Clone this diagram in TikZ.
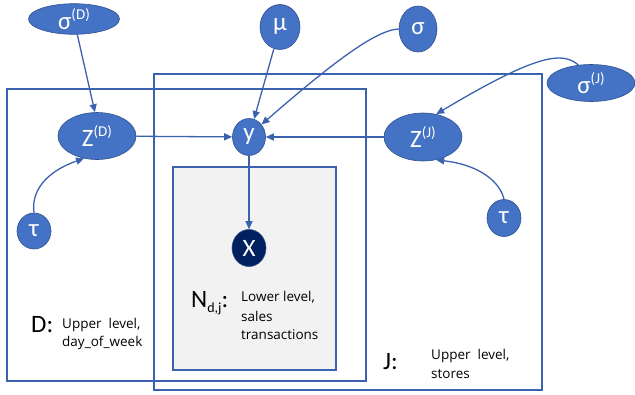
\documentclass[tikz,border=0pt]{standalone}
\usepackage{fontspec}
\setmainfont{Carlito}
\newfontfamily\smallfont{Open Sans}
\usetikzlibrary{shapes.geometric,arrows.meta}
\definecolor{nodeblue}{HTML}{4472C4}
\definecolor{edgeblue}{HTML}{2F528F}
\definecolor{lineblue}{HTML}{3A62AE}
\definecolor{navy}{HTML}{002060}
\definecolor{platefill}{HTML}{F2F2F2}
\newcommand{\upidx}[1]{\raisebox{0.42em}{\fontsize{15}{15}\selectfont #1}}
\newcommand{\lowidx}[1]{\raisebox{-0.2em}{\fontsize{14}{14}\selectfont #1}}
\tikzset{
  var/.style={ellipse, fill=nodeblue, draw=edgeblue, line width=0.6pt, text=white, inner sep=0pt, font=\fontsize{25}{25}\selectfont},
  obs/.style={var, fill=navy},
  plate/.style={draw=lineblue, line width=1.1pt},
  edge/.style={draw=lineblue, line width=1.3pt, -{Triangle[length=8pt,width=7pt]}},
  plabel/.style={font=\fontsize{25}{25}\selectfont, inner sep=0pt, anchor=west},
  pdesc/.style={font=\smallfont\fontsize{13.5}{16}\selectfont, inner sep=0pt, anchor=west}
}
\begin{document}
\begin{tikzpicture}[x=1pt,y=-1pt]
\useasboundingbox (0,0) rectangle (635,394);
% plates
\draw[plate] (154,74) rectangle (542,390);
\draw[plate] (7,89) rectangle (366,381);
\draw[plate, fill=platefill] (173,167) rectangle (336,370);
% nodes
\node[var, minimum width=91pt, minimum height=28pt] (sD) at (74,19) {σ\upidx{(D)}};
\node[var, minimum width=40pt, minimum height=45pt] (mu) at (280,27) {μ};
\node[var, minimum width=38pt, minimum height=46pt] (s) at (418,29) {σ};
\node[var, minimum width=88pt, minimum height=37pt] (sJ) at (591,83) {σ\upidx{(J)}};
\node[var, minimum width=78pt, minimum height=47pt] (ZD) at (97,136) {Z\upidx{(D)}};
\node[var, minimum width=33pt, minimum height=37pt] (y) at (249,137) {y};
\node[var, minimum width=78pt, minimum height=48pt] (ZJ) at (423,137) {Z\upidx{(J)}};
\node[var, minimum width=34pt, minimum height=36pt] (tD) at (34,231) {τ};
\node[var, minimum width=34pt, minimum height=37pt] (tJ) at (504,218) {τ};
\node[obs, minimum width=34pt, minimum height=37pt] (X) at (249,248) {X};
% labels
\node[plabel] (Dl) at (31,325) {D:};
\node[pdesc] (Dd1) at (62,325) {Upper\ \ level,};
\node[pdesc] (Dd2) at (62,343) {day\_of\_week};
\node[plabel] (Nl) at (191,303) {N\lowidx{d,j}:};
\node[pdesc] (Nd1) at (241,297) {Lower level,};
\node[pdesc] (Nd2) at (241,316) {sales};
\node[pdesc] (Nd3) at (241,335) {transactions};
\node[plabel] (Jl) at (383,362) {J:};
\node[pdesc] (Jd1) at (431,356) {Upper\ \ level,};
\node[pdesc] (Jd2) at (431,374) {stores};
% edges
\draw[edge] (sD.-78) -- (ZD.95);
\draw[edge] (mu) -- (y);
\draw[edge] (s.west) .. controls (375,30) and (330,65) .. (y.45);
\draw[edge] (sJ.125) .. controls (563,52) and (540,52) .. (ZJ.60);
\draw[edge] (ZD) -- (y);
\draw[edge] (ZJ) -- (y);
\draw[edge] (y) -- (X);
\draw[edge] (tD.north) .. controls (31,192) and (45,172) .. (ZD.-120);
\draw[edge] (tJ.north) .. controls (500,182) and (480,165) .. (ZJ.-60);
\end{tikzpicture}
\end{document}
